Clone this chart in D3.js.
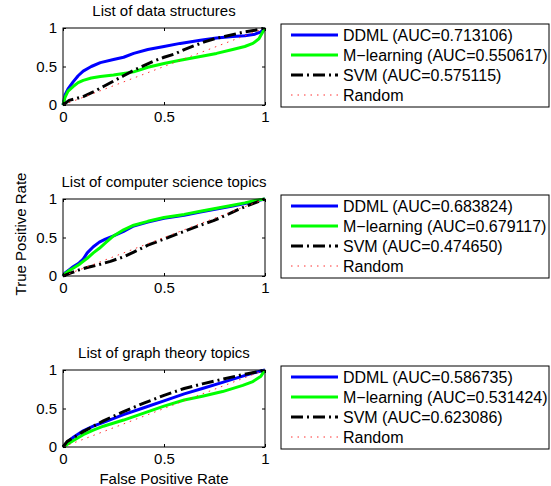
<!DOCTYPE html>
<html>
<head>
<meta charset="utf-8">
<script src="https://cdn.jsdelivr.net/npm/d3@7"></script>
<style>
  body { margin: 0; background: #fff; }
  text { font-family: "Liberation Sans", Arial, sans-serif; font-size: 15px; fill: #000; }
  .leg text { font-size: 16px; }
</style>
</head>
<body>
<div id="chart"></div>
<script>
// panel titles + legend names
var titles = ["List of data structures", "List of computer science topics", "List of graph theory topics"];
var methods = ["DDML", "M\u2212learning", "SVM", "Random"];
var aucs = [
    ["0.713106", "0.550617", "0.575115"],
    ["0.683824", "0.679117", "0.474650"],
    ["0.586735", "0.531424", "0.623086"]
];
var ticks = [0, 0.5, 1];

// ROC points [FPR, TPR]
var dsDDML = [[0,0],[0.01,0.13],[0.025,0.21],[0.05,0.3],[0.075,0.38],[0.1,0.44],[0.14,0.5],[0.185,0.55],[0.25,0.59],[0.3,0.62],[0.35,0.67],[0.42,0.72],[0.5,0.76],[0.58,0.8],[0.68,0.84],[0.76,0.87],[0.84,0.89],[0.9,0.9],[0.95,0.92],[0.98,0.95],[1,1]];
var dsML = [[0,0],[0.01,0.1],[0.025,0.18],[0.05,0.24],[0.075,0.29],[0.1,0.32],[0.14,0.35],[0.185,0.37],[0.25,0.39],[0.3,0.41],[0.35,0.43],[0.42,0.49],[0.5,0.54],[0.58,0.58],[0.68,0.63],[0.76,0.67],[0.84,0.72],[0.9,0.76],[0.94,0.8],[0.97,0.86],[1,1]];
var dsSVM = [[0,0],[0.03,0.06],[0.06,0.08],[0.1,0.11],[0.15,0.17],[0.2,0.24],[0.25,0.31],[0.3,0.38],[0.35,0.45],[0.4,0.51],[0.45,0.57],[0.5,0.62],[0.55,0.66],[0.6,0.72],[0.65,0.77],[0.7,0.82],[0.75,0.86],[0.8,0.89],[0.85,0.92],[0.9,0.95],[0.95,0.97],[1,1]];

var csDDML = [[0,0],[0.01,0.04],[0.03,0.08],[0.05,0.12],[0.08,0.17],[0.1,0.22],[0.12,0.3],[0.15,0.38],[0.18,0.44],[0.21,0.48],[0.25,0.52],[0.3,0.58],[0.35,0.65],[0.42,0.7],[0.5,0.75],[0.6,0.79],[0.68,0.83],[0.76,0.87],[0.84,0.91],[0.9,0.94],[0.95,0.97],[1,1]];
var csML = [[0,0],[0.01,0.03],[0.03,0.07],[0.05,0.1],[0.08,0.15],[0.1,0.19],[0.12,0.23],[0.15,0.3],[0.18,0.36],[0.21,0.43],[0.25,0.52],[0.3,0.6],[0.35,0.66],[0.42,0.71],[0.5,0.76],[0.6,0.8],[0.68,0.84],[0.76,0.88],[0.84,0.92],[0.9,0.95],[0.95,0.98],[1,1]];
var csSVM = [[0,0],[0.04,0.04],[0.08,0.08],[0.12,0.11],[0.18,0.15],[0.235,0.19],[0.3,0.25],[0.35,0.31],[0.42,0.4],[0.5,0.48],[0.56,0.54],[0.61,0.59],[0.68,0.66],[0.745,0.72],[0.8,0.78],[0.84,0.83],[0.9,0.9],[0.95,0.95],[1,1]];

var gtDDML = [[0,0],[0.02,0.06],[0.053,0.13],[0.1,0.21],[0.15,0.27],[0.2,0.32],[0.3,0.42],[0.4,0.51],[0.5,0.6],[0.6,0.69],[0.69,0.76],[0.79,0.84],[0.89,0.92],[0.955,0.97],[1,1]];
var gtML = [[0,0],[0.05,0.08],[0.1,0.16],[0.15,0.22],[0.2,0.27],[0.3,0.35],[0.4,0.44],[0.5,0.53],[0.6,0.61],[0.69,0.66],[0.79,0.72],[0.89,0.8],[0.94,0.85],[0.98,0.92],[1,1]];
var gtSVM = [[0,0],[0.02,0.07],[0.1,0.2],[0.2,0.34],[0.3,0.46],[0.4,0.57],[0.5,0.67],[0.6,0.76],[0.69,0.82],[0.79,0.88],[0.89,0.94],[0.97,0.98],[1,1]];

var randomLine = [[0,0],[1,1]];

var curves = [
    [dsDDML, dsML, dsSVM, randomLine],
    [csDDML, csML, csSVM, randomLine],
    [gtDDML, gtML, gtSVM, randomLine]
];

// line styles per method
var colors = ["#0000ff", "#00ff00", "#000000", "#ff3030"];
var widths = [3, 3, 3, 1];
var dashes = [null, null, "12,4,2,4", "1.5,5"];

var width = 551, height = 486;
var svg = d3.select("#chart").append("svg")
    .attr("width", width)
    .attr("height", height);

var x = d3.scaleLinear().domain([0, 1]).range([63, 265]);
var panelTop = [28, 199, 370];
var ph = 77;
var fmt = d => d3.format("")(d);

panelTop.forEach((top, i) => {
    var y = d3.scaleLinear().domain([0, 1]).range([top + ph, top]);
    var g = svg.append("g");

    // title
    g.append("text")
        .attr("x", (x(0) + x(1)) / 2)
        .attr("y", top - 12)
        .attr("text-anchor", "middle")
        .text(titles[i]);

    // curves
    var line = d3.line().x(d => x(d[0])).y(d => y(d[1]));
    curves[i].forEach((pts, k) => {
        g.append("path")
            .datum(pts)
            .attr("d", line)
            .attr("fill", "none")
            .attr("stroke", colors[k])
            .attr("stroke-width", widths[k])
            .attr("stroke-dasharray", dashes[k])
            .attr("stroke-linejoin", "round");
    });

    // axes, ticks inward
    var ax = g.append("g").attr("transform", "translate(0," + (top + ph) + ")")
        .call(d3.axisBottom(x).tickValues(ticks).tickFormat(fmt).tickSize(-3).tickPadding(6));
    var ay = g.append("g").attr("transform", "translate(" + x(0) + ",0)")
        .call(d3.axisLeft(y).tickValues(ticks).tickFormat(fmt).tickSize(-3).tickPadding(6));
    var at = g.append("g").attr("transform", "translate(0," + top + ")")
        .call(d3.axisTop(x).tickValues(ticks).tickFormat("").tickSize(-3));
    var ar = g.append("g").attr("transform", "translate(" + x(1) + ",0)")
        .call(d3.axisRight(y).tickValues(ticks).tickFormat("").tickSize(-3));
    [ax, ay, at, ar].forEach(a => {
        a.select(".domain").remove();
        a.selectAll("text").attr("font-size", null).attr("font-family", null);
    });

    g.append("rect")
        .attr("x", x(0)).attr("y", top)
        .attr("width", x(1) - x(0)).attr("height", ph)
        .attr("fill", "none").attr("stroke", "#000").attr("stroke-width", 1);

    // legend
    var lh = 83;
    var ly = top + ph / 2 - lh / 2 - 1;
    var lg = g.append("g").attr("class", "leg").attr("transform", "translate(281," + ly + ")");
    lg.append("rect")
        .attr("width", 268).attr("height", lh)
        .attr("fill", "#fff").attr("stroke", "#000").attr("stroke-width", 1);
    methods.forEach((m, k) => {
        var yy = 11 + k * 20;
        lg.append("line")
            .attr("x1", 10).attr("x2", 57).attr("y1", yy).attr("y2", yy)
            .attr("stroke", colors[k])
            .attr("stroke-width", widths[k])
            .attr("stroke-dasharray", dashes[k]);
        lg.append("text")
            .attr("x", 62).attr("y", yy)
            .attr("dominant-baseline", "central")
            .text(k < 3 ? m + " (AUC=" + aucs[i][k] + ")" : m);
    });
});

// axis labels
svg.append("text")
    .attr("transform", "translate(26,234) rotate(-90)")
    .attr("text-anchor", "middle")
    .text("True Positive Rate");
svg.append("text")
    .attr("x", 164).attr("y", 484)
    .attr("text-anchor", "middle")
    .text("False Positive Rate");
</script>
</body>
</html>
